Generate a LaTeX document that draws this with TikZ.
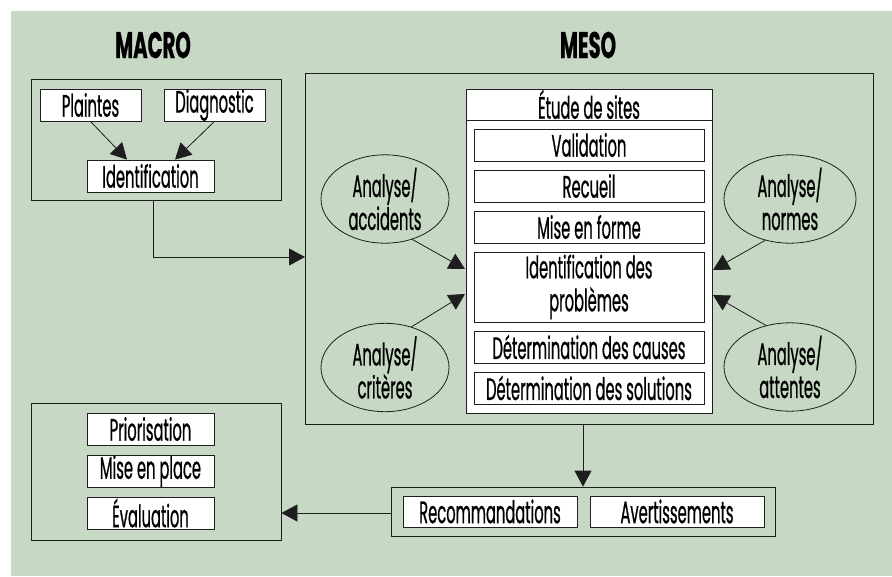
\documentclass[tikz,border=0pt]{standalone}
\usepackage{fontspec}
\setmainfont{Poppins}[FakeStretch=0.475,FakeBold=0.6]
\newfontfamily\ttlfont{Poppins}[FakeStretch=0.53,FakeBold=0.6]
\usetikzlibrary{arrows.meta,shapes.geometric,calc}
\definecolor{bgg}{RGB}{199,217,196}
\definecolor{ln}{RGB}{30,30,30}
\begin{document}
\begin{tikzpicture}[x=1pt,y=-1pt,
  every node/.style={font=\fontsize{31}{33}\selectfont, text=black},
  whitebox/.style={draw=ln, fill=white, line width=0.8pt, inner sep=0pt, minimum height=32pt},
  grpbox/.style={draw=ln, line width=0.8pt, inner sep=0pt},
  ell/.style={ellipse, draw=ln, line width=0.8pt, inner sep=0pt, minimum width=128pt, minimum height=80pt, align=center},
  arr/.style={draw=ln, line width=0.8pt, -{Triangle[length=16pt,width=17pt]}},
  ttl/.style={font=\fontsize{37}{40}\ttlfont\bfseries}
]
\useasboundingbox (0,0) rectangle (892,576);
\fill[bgg] (11,11) rectangle (892,576);

% titles
\node[ttl] (macrot) at (153,45) {MACRO};
\node[ttl] (mesot) at (588,45) {MESO};

% MACRO box
\node[grpbox, minimum width=250pt, minimum height=121pt] (macrobox) at (156,139.5) {};
\node[whitebox, minimum width=101pt] (plaintes) at (90.5,105) {Plaintes};
\node[whitebox, minimum width=101pt] (diag) at (214.5,105) {Diagnostic};
\node[whitebox, minimum width=127pt] (ident) at (150.5,176) {Identification};
\draw[arr] (plaintes.south) -- ($(ident.north)+(-23.5,0)$);
\draw[arr] (diag.south) -- ($(ident.north)+(24.5,0)$);

% MESO box
\node[grpbox, minimum width=568pt, minimum height=351pt] (mesobox) at (589,248.5) {};
\node[draw=ln, fill=white, line width=0.8pt, inner sep=0pt, minimum width=246pt, minimum height=324pt] (etude) at (589,251) {};
\node[whitebox, minimum width=246pt, minimum height=31pt] (etudet) at (589,104.5) {Étude de sites};
\node[whitebox, minimum width=230pt] (valid) at (589,145) {Validation};
\node[whitebox, minimum width=230pt] (recueil) at (589,186) {Recueil};
\node[whitebox, minimum width=230pt] (forme) at (589,227) {Mise en forme};
\node[whitebox, minimum width=230pt, minimum height=70pt, align=center] (probl) at (589,287) {Identification des\\problèmes};
\node[whitebox, minimum width=230pt] (causes) at (589,347) {Détermination des causes};
\node[whitebox, minimum width=230pt] (solut) at (589,388) {Détermination des solutions};

% ellipses
\node[ell] (acc) at (385,199) {Analyse/\\accidents};
\node[ell] (crit) at (385,367.5) {Analyse/\\critères};
\node[ell, minimum width=132pt] (norm) at (790,199) {Analyse/\\normes};
\node[ell, minimum width=132pt] (att) at (790,367) {Analyse/\\attentes};

\coordinate (tA) at (465,269);
\coordinate (tC) at (465,294);
\coordinate (tN) at (713,270);
\coordinate (tT) at (713,295);
\draw[arr] (acc.-56) -- (tA);
\draw[arr] (crit.57) -- (tC);
\draw[arr] (norm.239.5) -- (tN);
\draw[arr] (att.120) -- (tT);

% MACRO -> MESO
\coordinate (m1) at (305,257);
\draw[arr] ($(macrobox.south)+(-3,0)$) |- (m1);

% bottom boxes
\node[grpbox, minimum width=384pt, minimum height=49pt] (recobox) at (583,511.5) {};
\node[whitebox, minimum width=174pt, minimum height=31pt] (reco) at (490,511.5) {Recommandations};
\node[whitebox, minimum width=174pt, minimum height=31pt] (avert) at (677,511.5) {Avertissements};
\draw[arr] (mesobox.south -| recobox.north) -- (recobox.north);

\node[grpbox, minimum width=250pt, minimum height=137pt] (actbox) at (156,471.5) {};
\node[whitebox, minimum width=127pt] (prio) at (150.5,429) {Priorisation};
\node[whitebox, minimum width=127pt] (place) at (150.5,471) {Mise en place};
\node[whitebox, minimum width=127pt] (evalu) at (150.5,513) {Évaluation};
\draw[arr] ($(recobox.west)+(0,1.5)$) -- ($(recobox.west -| actbox.east)+(0,1.5)$);
\end{tikzpicture}
\end{document}
